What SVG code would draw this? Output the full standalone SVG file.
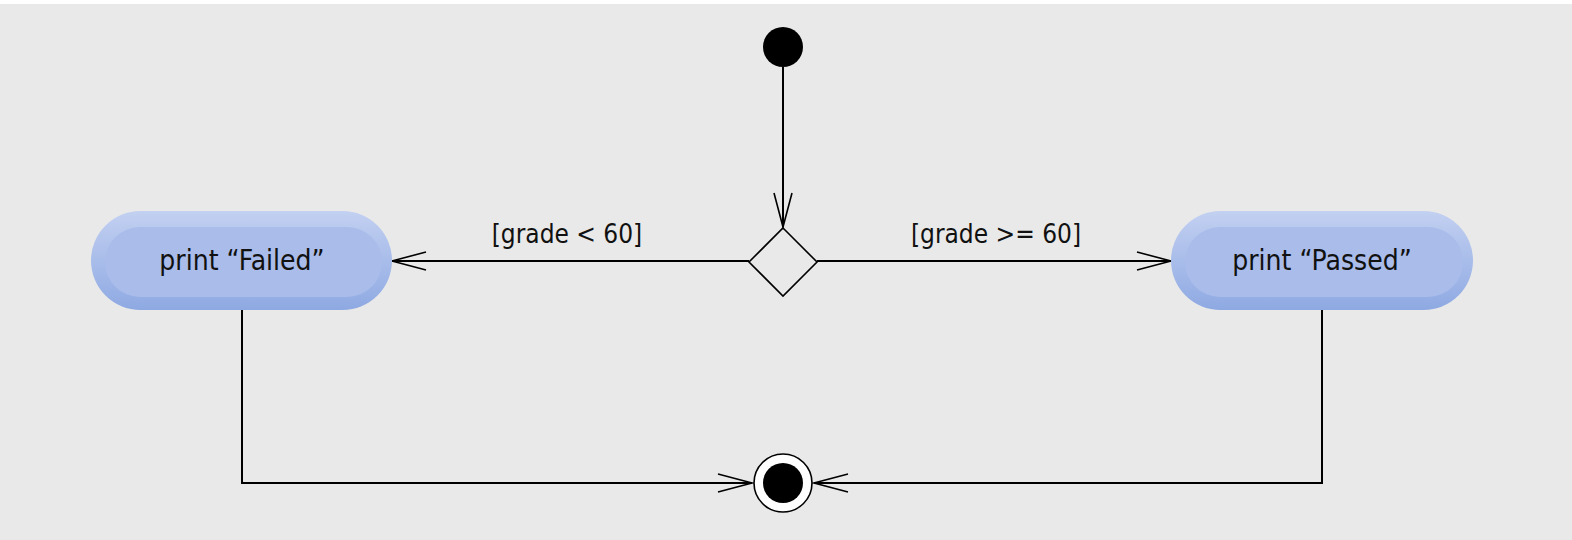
<svg xmlns="http://www.w3.org/2000/svg" width="1572" height="540" viewBox="0 0 1572 540">
<style>
.edge{fill:none;stroke:#000;stroke-width:2}
.lbl{font-family:"DejaVu Sans Condensed","DejaVu Sans",sans-serif;font-size:26px;fill:#111;text-anchor:middle}
.ntext{font-family:"DejaVu Sans Condensed","DejaVu Sans",sans-serif;font-size:28px;fill:#111;text-anchor:middle}
.inner{fill:#a9bcea}
</style>
<defs>
<linearGradient id="pill" x1="0" y1="0" x2="0" y2="1">
<stop offset="0" stop-color="#c2d0f1"/>
<stop offset="0.5" stop-color="#a9bdea"/>
<stop offset="1" stop-color="#8ea9e2"/>
</linearGradient>
<marker id="open" markerUnits="userSpaceOnUse" markerWidth="40" markerHeight="24" viewBox="-36 -12 40 24" refX="0" refY="0" orient="auto">
<path d="M -34 -9 L 0 0 L -34 9" fill="none" stroke="#000" stroke-width="1.6"/>
</marker>
</defs>
<rect x="0" y="0" width="1572" height="540" fill="#ffffff"/>
<rect x="0" y="4" width="1572" height="536" fill="#e9e9e9"/>
<g id="connectors">
<path class="edge" d="M 783 67 L 783 227" marker-end="url(#open)"/>
<path class="edge" d="M 749 261 L 392 261" marker-end="url(#open)"/>
<path class="edge" d="M 817 261 L 1171 261" marker-end="url(#open)"/>
<path class="edge" d="M 242 310 L 242 483 L 752 483" marker-end="url(#open)"/>
<path class="edge" d="M 1322 310 L 1322 483 L 814 483" marker-end="url(#open)"/>
<text class="lbl" x="567" y="243">[grade &lt; 60]</text>
<text class="lbl" x="996" y="243">[grade &gt;= 60]</text>
</g>
<g id="start">
<circle cx="783" cy="47" r="20" fill="#000"/>
</g>
<g id="decision">
<polygon points="783,228 817,262 783,296 749,262" fill="none" stroke="#000" stroke-width="1.6"/>
</g>
<g id="failed">
<rect x="91" y="211" width="301" height="99" rx="49.5" fill="url(#pill)"/>
<rect x="105" y="227" width="277" height="70" rx="35" class="inner"/>
<text class="ntext" x="242" y="270">print “Failed”</text>
</g>
<g id="passed">
<rect x="1171" y="211" width="302" height="99" rx="49.5" fill="url(#pill)"/>
<rect x="1185" y="227" width="278" height="70" rx="35" class="inner"/>
<text class="ntext" x="1322" y="270">print “Passed”</text>
</g>
<g id="final">
<circle cx="783" cy="483" r="29" fill="#fff" stroke="#000" stroke-width="1.6"/>
<circle cx="783" cy="483" r="20" fill="#000"/>
</g>
</svg>
